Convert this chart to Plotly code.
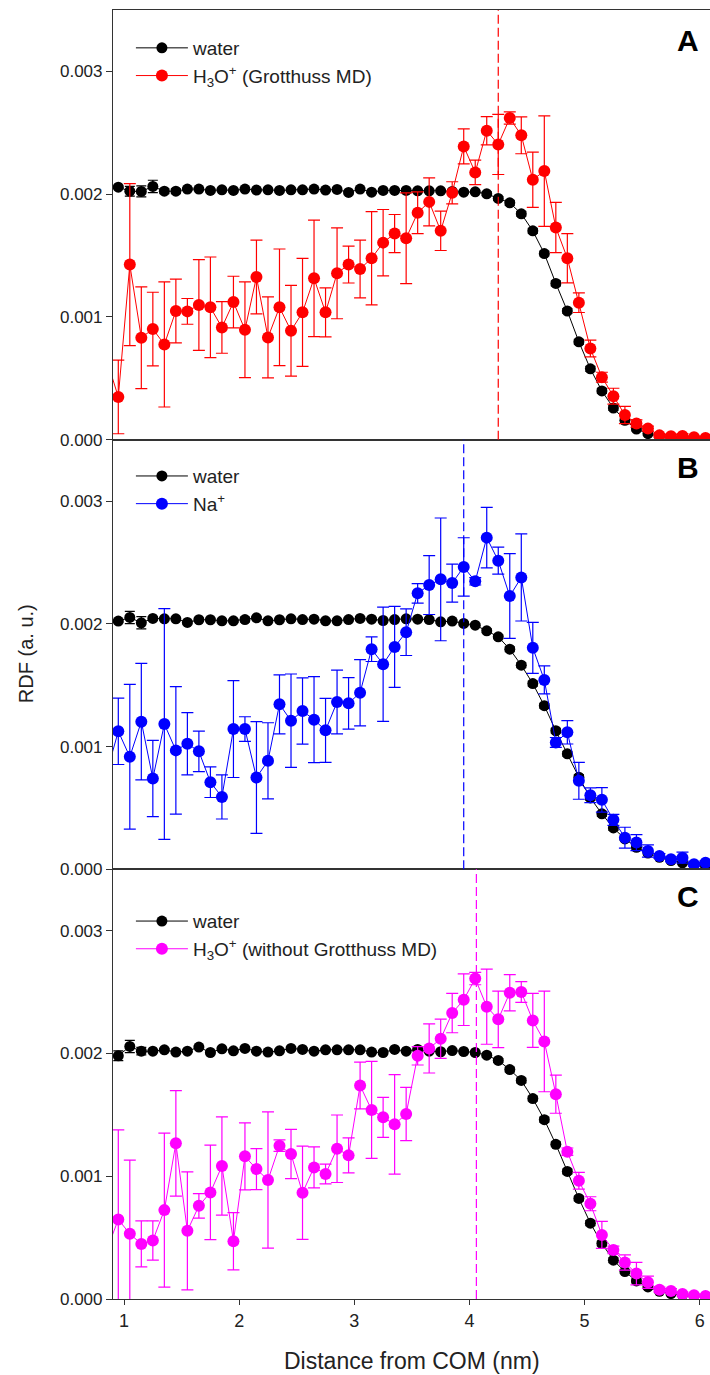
import plotly.graph_objects as go
from plotly.subplots import make_subplots

FONT = "Liberation Sans, Arial, sans-serif"

# x grid (nm)
x_grid = [0.95, 1.05, 1.15, 1.25, 1.35, 1.45, 1.55, 1.65, 1.75, 1.85,
          1.95, 2.05, 2.15, 2.25, 2.35, 2.45, 2.55, 2.65, 2.75, 2.85,
          2.95, 3.05, 3.15, 3.25, 3.35, 3.45, 3.55, 3.65, 3.75, 3.85,
          3.95, 4.05, 4.15, 4.25, 4.35, 4.45, 4.55, 4.65, 4.75, 4.85,
          4.95, 5.05, 5.15, 5.25, 5.35, 5.45, 5.55, 5.65, 5.75, 5.85,
          5.95, 6.05]
x_ion = [0.85] + x_grid

# values in units of 1e-3
water_A = [2.057, 2.024, 2.022, 2.063, 2.024, 2.024, 2.041, 2.041, 2.030, 2.035,
           2.030, 2.041, 2.033, 2.035, 2.030, 2.035, 2.035, 2.041, 2.033, 2.038,
           2.014, 2.041, 2.016, 2.030, 2.030, 2.030, 2.027, 2.027, 2.027, 2.022,
           2.016, 2.019, 2.003, 1.965, 1.929, 1.840, 1.701, 1.516, 1.273, 1.048,
           0.797, 0.577, 0.397, 0.258, 0.158, 0.087, 0.049, 0.027, 0.016, 0.010,
           0.006, 0.004]
water_A_err = [0.01, 0.04, 0.045, 0.05, 0.02, 0.02, 0.01, 0.01, 0.01, 0.01,
               0.01, 0.01, 0.01, 0.01, 0.01, 0.01, 0.01, 0.01, 0.01, 0.01,
               0.01, 0.01, 0.01, 0.01, 0.01, 0.01, 0.01, 0.01, 0.01, 0.01,
               0.01, 0.01, 0.015, 0.015, 0.02, 0.02, 0.02, 0.02, 0.02, 0.02,
               0.02, 0.02, 0.02, 0.02, 0.015, 0.015, 0.015, 0.01, 0.01, 0.01,
               0.01, 0.01]
h3o_grot = [0.65, 0.348, 1.426, 0.830, 0.901, 0.776, 1.048, 1.045, 1.097, 1.078, 0.914,
            1.121, 0.895, 1.325, 0.833, 1.078, 0.887, 1.037, 1.314, 1.037, 1.355,
            1.426, 1.390, 1.478, 1.605, 1.679, 1.641, 1.848, 1.937, 1.701, 2.011,
            2.389, 2.177, 2.517, 2.405, 2.620, 2.479, 2.117, 2.188, 1.728, 1.478,
            1.116, 0.743, 0.509, 0.354, 0.201, 0.131, 0.090, 0.035, 0.027, 0.030,
            0.019, 0.014]
h3o_grot_err = [0.30, 0.30, 0.66, 0.415, 0.30, 0.51, 0.26, 0.105, 0.37, 0.41, 0.21,
                0.21, 0.39, 0.30, 0.33, 0.475, 0.37, 0.44, 0.475, 0.20, 0.37,
                0.15, 0.235, 0.38, 0.27, 0.155, 0.37, 0.17, 0.195, 0.16, 0.09,
                0.143, 0.10, 0.115, 0.245, 0.05, 0.15, 0.225, 0.45, 0.205, 0.20,
                0.08, 0.068, 0.04, 0.065, 0.07, 0.03, 0.02, 0.015, 0.015, 0.02,
                0.01, 0.01]

water_B = [2.022, 2.052, 2.008, 2.044, 2.041, 2.041, 2.011, 2.033, 2.033, 2.024,
           2.024, 2.035, 2.049, 2.024, 2.033, 2.041, 2.035, 2.038, 2.024, 2.024,
           2.035, 2.044, 2.038, 2.027, 2.035, 2.041, 2.038, 2.035, 2.016, 2.022,
           2.003, 1.989, 1.943, 1.894, 1.793, 1.663, 1.513, 1.333, 1.129, 0.941,
           0.751, 0.582, 0.452, 0.337, 0.248, 0.180, 0.133, 0.098, 0.071, 0.052,
           0.038, 0.030]
water_B_err = [0.01, 0.05, 0.05, 0.01, 0.01, 0.01, 0.01, 0.01, 0.01, 0.01,
               0.01, 0.02, 0.01, 0.01, 0.01, 0.01, 0.01, 0.01, 0.01, 0.01,
               0.01, 0.01, 0.01, 0.01, 0.01, 0.01, 0.01, 0.01, 0.01, 0.01,
               0.01, 0.01, 0.015, 0.015, 0.02, 0.02, 0.02, 0.02, 0.02, 0.02,
               0.02, 0.02, 0.02, 0.02, 0.015, 0.015, 0.015, 0.01, 0.01, 0.01,
               0.01, 0.01]
na = [0.79, 1.124, 0.917, 1.203, 0.740, 1.184, 0.969, 1.023, 0.961, 0.710, 0.590,
      1.143, 1.143, 0.748, 0.884, 1.344, 1.211, 1.290, 1.219, 1.132, 1.363,
      1.352, 1.439, 1.793, 1.671, 1.812, 1.932, 2.248, 2.316, 2.362, 2.332,
      2.463, 2.346, 2.702, 2.514, 2.226, 2.378, 1.804, 1.543, 1.034, 1.116,
      0.721, 0.604, 0.566, 0.403, 0.258, 0.218, 0.150, 0.109, 0.082, 0.095,
      0.041, 0.054]
na_err = [0.30, 0.27, 0.59, 0.475, 0.31, 0.94, 0.52, 0.253, 0.165, 0.125, 0.18,
          0.395, 0.10, 0.455, 0.31, 0.24, 0.38, 0.27, 0.35, 0.26, 0.26,
          0.21, 0.27, 0.10, 0.465, 0.33, 0.19, 0.08, 0.24, 0.50, 0.155,
          0.238, 0.03, 0.247, 0.11, 0.345, 0.355, 0.208, 0.114, 0.04, 0.095,
          0.15, 0.06, 0.10, 0.045, 0.085, 0.065, 0.05, 0.02, 0.02, 0.045,
          0.015, 0.015]

water_C = [1.981, 2.057, 2.019, 2.019, 2.030, 2.011, 2.019, 2.052, 2.008, 2.038,
           2.022, 2.041, 2.019, 2.011, 2.022, 2.041, 2.033, 2.019, 2.030, 2.030,
           2.030, 2.030, 2.011, 2.008, 2.033, 2.019, 2.033, 2.019, 2.014, 2.024,
           2.016, 2.008, 1.986, 1.943, 1.869, 1.780, 1.633, 1.461, 1.260, 1.039,
           0.819, 0.618, 0.452, 0.316, 0.223, 0.147, 0.098, 0.063, 0.044, 0.033,
           0.027, 0.022]
water_C_err = [0.04, 0.05, 0.03, 0.01, 0.01, 0.01, 0.01, 0.01, 0.01, 0.01,
               0.01, 0.01, 0.01, 0.01, 0.01, 0.01, 0.01, 0.01, 0.01, 0.01,
               0.01, 0.01, 0.01, 0.01, 0.01, 0.01, 0.01, 0.01, 0.01, 0.01,
               0.01, 0.01, 0.015, 0.015, 0.02, 0.02, 0.02, 0.02, 0.02, 0.02,
               0.02, 0.02, 0.02, 0.02, 0.015, 0.015, 0.015, 0.01, 0.01, 0.01,
               0.01, 0.01]
h3o_nogrot = [0.40, 0.648, 0.531, 0.449, 0.476, 0.724, 1.268, 0.555, 0.759, 0.868, 1.083,
              0.471, 1.162, 1.058, 0.969, 1.249, 1.181, 0.865, 1.072, 1.018, 1.224,
              1.170, 1.739, 1.540, 1.480, 1.423, 1.507, 1.981, 2.041, 2.120, 2.329,
              2.438, 2.610, 2.381, 2.278, 2.495, 2.501, 2.269, 2.098, 1.668, 1.200,
              0.963, 0.776, 0.522, 0.400, 0.297, 0.207, 0.136, 0.076, 0.065, 0.041,
              0.030, 0.024]
h3o_nogrot_err = [0.40, 0.73, 0.60, 0.187, 0.16, 0.627, 0.43, 0.48, 0.10, 0.385, 0.40,
                  0.233, 0.273, 0.167, 0.555, 0.047, 0.20, 0.38, 0.167, 0.08, 0.275,
                  0.142, 0.19, 0.395, 0.163, 0.405, 0.217, 0.075, 0.20, 0.16, 0.16,
                  0.21, 0.05, 0.306, 0.23, 0.148, 0.085, 0.22, 0.41, 0.155, 0.03,
                  0.068, 0.057, 0.11, 0.03, 0.062, 0.092, 0.05, 0.02, 0.02, 0.015,
                  0.01, 0.01]

# vertical dashed marker positions (nm)
vline_x = [4.25, 3.95, 4.06]

panel_letters = ["A", "B", "C"]
ion_names = ["H<sub>3</sub>O<sup>+</sup> (Grotthuss MD)", "Na<sup>+</sup>",
             "H<sub>3</sub>O<sup>+</sup> (without Grotthuss MD)"]
ion_colors = ["#ff0000", "#0000ff", "#ff00ff"]
water_sets = [(water_A, water_A_err), (water_B, water_B_err), (water_C, water_C_err)]
ion_sets = [(h3o_grot, h3o_grot_err), (na, na_err), (h3o_nogrot, h3o_nogrot_err)]

S = 1e-3

fig = make_subplots(rows=3, cols=1, shared_xaxes=True, vertical_spacing=0)

legend_names = ["legend", "legend2", "legend3"]
for i in range(3):
    r = i + 1
    wv, we = water_sets[i]
    iv, ie = ion_sets[i]
    fig.add_trace(go.Scatter(
        x=x_grid, y=[v * S for v in wv],
        error_y=dict(type="data", array=[e * S for e in we], color="black",
                     thickness=1.2, width=5),
        mode="lines+markers", name="water",
        line=dict(color="black", width=1),
        marker=dict(color="black", size=11),
        legend=legend_names[i], showlegend=True), row=r, col=1)
    fig.add_trace(go.Scatter(
        x=x_ion, y=[v * S for v in iv],
        error_y=dict(type="data", array=[e * S for e in ie], color=ion_colors[i],
                     thickness=1.2, width=6),
        mode="lines+markers", name=ion_names[i],
        line=dict(color=ion_colors[i], width=1),
        marker=dict(color=ion_colors[i], size=12),
        legend=legend_names[i], showlegend=True), row=r, col=1)
    fig.add_shape(type="line", x0=vline_x[i], x1=vline_x[i], y0=0, y1=1,
                  xref="x" if i == 0 else f"x{r}",
                  yref=("y domain" if i == 0 else f"y{r} domain"),
                  line=dict(color=ion_colors[i], width=1.2, dash="9px,4px"))

AX = "#333333"
for r in range(1, 4):
    fig.update_yaxes(range=[0, 0.0035], tickvals=[0, 0.001, 0.002, 0.003],
                     ticktext=["0.000", "0.001", "0.002", "0.003"],
                     showgrid=False, zeroline=False, showline=True, linecolor=AX,
                     linewidth=1.2, ticks="outside", ticklen=6, tickcolor=AX,
                     tickfont=dict(family=FONT, size=17, color="#222"),
                     row=r, col=1)
    fig.update_xaxes(range=[0.904, 6.089], showgrid=False, zeroline=False,
                     showline=True, linecolor=AX, linewidth=1.2, mirror=True,
                     tickvals=[1, 2, 3, 4, 5, 6],
                     ticks="outside" if r == 3 else "", ticklen=5, tickcolor=AX,
                     showticklabels=(r == 3),
                     tickfont=dict(family=FONT, size=18, color="#222"),
                     row=r, col=1)

legend_common = dict(xanchor="left", yanchor="top", bgcolor="rgba(0,0,0,0)",
                     font=dict(family=FONT, size=19, color="#222"),
                     tracegroupgap=0, itemwidth=52)
H = 1375
top, bot = 10, 1298.7
def py(ypx):
    return (bot - ypx) / (bot - top)

fig.update_layout(
    width=710, height=H,
    margin=dict(l=113, r=0, t=10, b=76),
    plot_bgcolor="white", paper_bgcolor="white",
    legend=dict(x=0.03, y=py(29), **legend_common),
    legend2=dict(x=0.03, y=py(457), **legend_common),
    legend3=dict(x=0.03, y=py(902), **legend_common),
)

annots = []
letter_y = [40, 467, 896]
for i in range(3):
    annots.append(dict(text=f"<b>{panel_letters[i]}</b>", x=0.985, y=py(letter_y[i]),
                       xref="paper", yref="paper", xanchor="right", yanchor="middle",
                       showarrow=False, font=dict(family=FONT, size=30, color="black")))
annots.append(dict(text="RDF (a. u.)", x=(26 - 113) / 597, y=py(654), xref="paper",
                   yref="paper", textangle=-90, xanchor="center", yanchor="middle",
                   showarrow=False, font=dict(family=FONT, size=20, color="#222")))
annots.append(dict(text="Distance from COM (nm)", x=0.5, y=py(1361), xref="paper",
                   yref="paper", xanchor="center", yanchor="middle",
                   showarrow=False, font=dict(family=FONT, size=23, color="#222")))
fig.update_layout(annotations=annots)

fig.write_html("out.html")
